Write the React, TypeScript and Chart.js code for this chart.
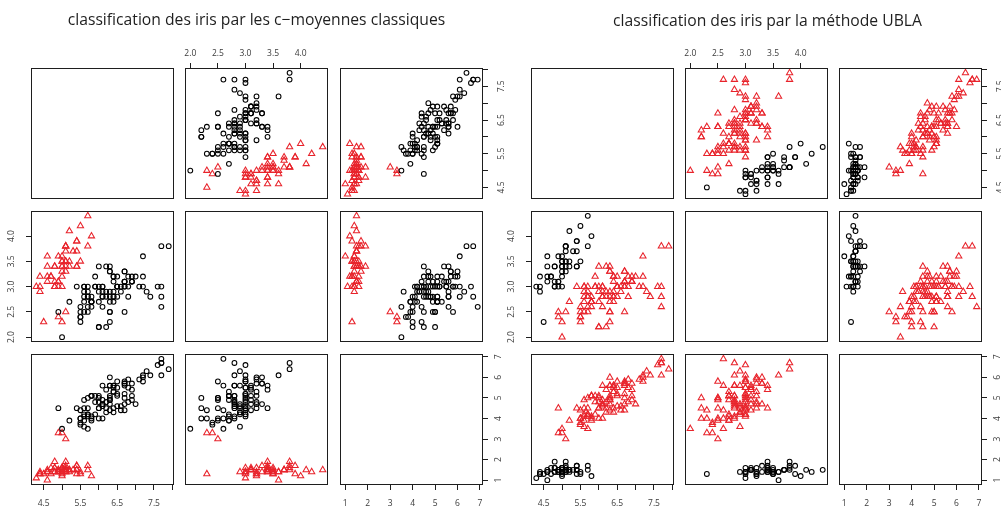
import React, { useEffect, useRef } from 'react';
import { Chart, registerables } from 'chart.js';

Chart.register(...registerables);

// ---- Data (iris: sepal length, sepal width, petal length) ----
const SEPAL_LENGTH = [
  5.1, 4.9, 4.7, 4.6, 5.0, 5.4, 4.6, 5.0, 4.4, 4.9, 5.4, 4.8, 4.8, 4.3, 5.8, 5.7, 5.4, 5.1, 5.7, 5.1,
  5.4, 5.1, 4.6, 5.1, 4.8, 5.0, 5.0, 5.2, 5.2, 4.7, 4.8, 5.4, 5.2, 5.5, 4.9, 5.0, 5.5, 4.9, 4.4, 5.1,
  5.0, 4.5, 4.4, 5.0, 5.1, 4.8, 5.1, 4.6, 5.3, 5.0,
  7.0, 6.4, 6.9, 5.5, 6.5, 5.7, 6.3, 4.9, 6.6, 5.2, 5.0, 5.9, 6.0, 6.1, 5.6, 6.7, 5.6, 5.8, 6.2, 5.6,
  5.9, 6.1, 6.3, 6.1, 6.4, 6.6, 6.8, 6.7, 6.0, 5.7, 5.5, 5.5, 5.8, 6.0, 5.4, 6.0, 6.7, 6.3, 5.6, 5.5,
  5.5, 6.1, 5.8, 5.0, 5.6, 5.7, 5.7, 6.2, 5.1, 5.7,
  6.3, 5.8, 7.1, 6.3, 6.5, 7.6, 4.9, 7.3, 6.7, 7.2, 6.5, 6.4, 6.8, 5.7, 5.8, 6.4, 6.5, 7.7, 7.7, 6.0,
  6.9, 5.6, 7.7, 6.3, 6.7, 7.2, 6.2, 6.1, 6.4, 7.2, 7.4, 7.9, 6.4, 6.3, 6.1, 7.7, 6.3, 6.4, 6.0, 6.9,
  6.7, 6.9, 5.8, 6.8, 6.7, 6.7, 6.3, 6.5, 6.2, 5.9,
];
const SEPAL_WIDTH = [
  3.5, 3.0, 3.2, 3.1, 3.6, 3.9, 3.4, 3.4, 2.9, 3.1, 3.7, 3.4, 3.0, 3.0, 4.0, 4.4, 3.9, 3.5, 3.8, 3.8,
  3.4, 3.7, 3.6, 3.3, 3.4, 3.0, 3.4, 3.5, 3.4, 3.2, 3.1, 3.4, 4.1, 4.2, 3.1, 3.2, 3.5, 3.6, 3.0, 3.4,
  3.5, 2.3, 3.2, 3.5, 3.8, 3.0, 3.8, 3.2, 3.7, 3.3,
  3.2, 3.2, 3.1, 2.3, 2.8, 2.8, 3.3, 2.4, 2.9, 2.7, 2.0, 3.0, 2.2, 2.9, 2.9, 3.1, 3.0, 2.7, 2.2, 2.5,
  3.2, 2.8, 2.5, 2.8, 2.9, 3.0, 2.8, 3.0, 2.9, 2.6, 2.4, 2.4, 2.7, 2.7, 3.0, 3.4, 3.1, 2.3, 3.0, 2.5,
  2.6, 3.0, 2.6, 2.3, 2.7, 3.0, 2.9, 2.9, 2.5, 2.8,
  3.3, 2.7, 3.0, 2.9, 3.0, 3.0, 2.5, 2.9, 2.5, 3.6, 3.2, 2.7, 3.0, 2.5, 2.8, 3.2, 3.0, 3.8, 2.6, 2.2,
  3.2, 2.8, 2.8, 2.7, 3.3, 3.2, 2.8, 3.0, 2.8, 3.0, 2.8, 3.8, 2.8, 2.8, 2.6, 3.0, 3.4, 3.1, 3.0, 3.1,
  3.1, 3.1, 2.7, 3.2, 3.3, 3.0, 2.5, 3.0, 3.4, 3.0,
];
const PETAL_LENGTH = [
  1.4, 1.4, 1.3, 1.5, 1.4, 1.7, 1.4, 1.5, 1.4, 1.5, 1.5, 1.6, 1.4, 1.1, 1.2, 1.5, 1.3, 1.4, 1.7, 1.5,
  1.7, 1.5, 1.0, 1.7, 1.9, 1.6, 1.6, 1.5, 1.4, 1.6, 1.6, 1.5, 1.5, 1.4, 1.5, 1.2, 1.3, 1.4, 1.3, 1.5,
  1.3, 1.3, 1.3, 1.6, 1.9, 1.4, 1.6, 1.4, 1.5, 1.4,
  4.7, 4.5, 4.9, 4.0, 4.6, 4.5, 4.7, 3.3, 4.6, 3.9, 3.5, 4.2, 4.0, 4.7, 3.6, 4.4, 4.5, 4.1, 4.5, 3.9,
  4.8, 4.0, 4.9, 4.7, 4.3, 4.4, 4.8, 5.0, 4.5, 3.5, 3.8, 3.7, 3.9, 5.1, 4.5, 4.5, 4.7, 4.4, 4.1, 4.0,
  4.4, 4.6, 4.0, 3.3, 4.2, 4.2, 4.2, 4.3, 3.0, 4.1,
  6.0, 5.1, 5.9, 5.6, 5.8, 6.6, 4.5, 6.3, 5.8, 6.1, 5.1, 5.3, 5.5, 5.0, 5.1, 5.3, 5.5, 6.7, 6.9, 5.0,
  5.7, 4.9, 6.7, 4.9, 5.7, 6.0, 4.8, 4.9, 5.6, 5.8, 6.1, 6.4, 5.6, 5.1, 5.6, 6.1, 5.6, 5.5, 4.8, 5.4,
  5.6, 5.1, 5.1, 5.9, 5.7, 5.2, 5.0, 5.2, 5.4, 5.1,
];

// cluster membership: 1 = black circle, 2 = red triangle
const CMEANS_GROUP = [
  2, 2, 2, 2, 2, 2, 2, 2, 2, 2, 2, 2, 2, 2, 2, 2, 2, 2, 2, 2,
  2, 2, 2, 2, 2, 2, 2, 2, 2, 2, 2, 2, 2, 2, 2, 2, 2, 2, 2, 2,
  2, 2, 2, 2, 2, 2, 2, 2, 2, 2,
  1, 1, 1, 1, 1, 1, 1, 2, 1, 1, 1, 1, 1, 1, 1, 1, 1, 1, 1, 1,
  1, 1, 1, 1, 1, 1, 1, 1, 1, 1, 1, 1, 1, 1, 1, 1, 1, 1, 1, 1,
  1, 1, 1, 2, 1, 1, 1, 1, 2, 1,
  1, 1, 1, 1, 1, 1, 1, 1, 1, 1, 1, 1, 1, 1, 1, 1, 1, 1, 1, 1,
  1, 1, 1, 1, 1, 1, 1, 1, 1, 1, 1, 1, 1, 1, 1, 1, 1, 1, 1, 1,
  1, 1, 1, 1, 1, 1, 1, 1, 1, 1,
];
const UBLA_GROUP = [
  1, 1, 1, 1, 1, 1, 1, 1, 1, 1, 1, 1, 1, 1, 1, 1, 1, 1, 1, 1,
  1, 1, 1, 1, 1, 1, 1, 1, 1, 1, 1, 1, 1, 1, 1, 1, 1, 1, 1, 1,
  1, 1, 1, 1, 1, 1, 1, 1, 1, 1,
  2, 2, 2, 2, 2, 2, 2, 2, 2, 2, 2, 2, 2, 2, 2, 2, 2, 2, 2, 2,
  2, 2, 2, 2, 2, 2, 2, 2, 2, 2, 2, 2, 2, 2, 2, 2, 2, 2, 2, 2,
  2, 2, 2, 2, 2, 2, 2, 2, 2, 2,
  2, 2, 2, 2, 2, 2, 2, 2, 2, 2, 2, 2, 2, 2, 2, 2, 2, 2, 2, 2,
  2, 2, 2, 2, 2, 2, 2, 2, 2, 2, 2, 2, 2, 2, 2, 2, 2, 2, 2, 2,
  2, 2, 2, 2, 2, 2, 2, 2, 2, 2,
];

const SL_TICKS = [4.5, 5.0, 5.5, 6.0, 6.5, 7.0, 7.5, 8.0];
const SL_TICK_LABELS = ['4.5', '', '5.5', '', '6.5', '', '7.5', ''];
const SW_TICKS = [2.0, 2.5, 3.0, 3.5, 4.0];
const SW_TICK_LABELS = ['2.0', '2.5', '3.0', '3.5', '4.0'];
const PL_TICKS = [1, 2, 3, 4, 5, 6, 7];
const PL_TICK_LABELS = ['1', '2', '3', '4', '5', '6', '7'];

const TITLE_LEFT = 'classification des iris par les c\u2212moyennes classiques';
const TITLE_RIGHT = 'classification des iris par la méthode UBLA';

// ---- Styling / layout ----
const FONT = "'Open Sans', 'DejaVu Sans', sans-serif";
const RED = '#e8232b';
const INK = '#1e1e1e';
const TICK_TEXT = '#3a3a3a';
const M = 40;
const PW = 143;
const PH = 131;
const ROWS = [68, 211, 354];

const VARS = [
  { values: SEPAL_LENGTH, ticks: SL_TICKS, labels: SL_TICK_LABELS },
  { values: SEPAL_WIDTH, ticks: SW_TICKS, labels: SW_TICK_LABELS },
  { values: PETAL_LENGTH, ticks: PL_TICKS, labels: PL_TICK_LABELS },
];

function rangeOf(values: number[]) {
  const lo = Math.min(...values);
  const hi = Math.max(...values);
  const d = (hi - lo) * 0.04;
  return [lo - d, hi + d];
}

const framePlugin = {
  id: 'panelFrame',
  afterDatasetsDraw(chart: any) {
    const { left, top, right, bottom } = chart.chartArea;
    const ctx = chart.ctx;
    ctx.save();
    ctx.strokeStyle = INK;
    ctx.lineWidth = 1;
    ctx.strokeRect(left + 0.5, top + 0.5, right - left - 1, bottom - top - 1);
    ctx.restore();
  },
};

function Panel({ px, py, i, j, group }: { px: number; py: number; i: number; j: number; group: number[] }) {
  const ref = useRef<HTMLCanvasElement>(null);
  useEffect(() => {
    if (!ref.current) return;
    const diag = i === j;
    const xv = VARS[j];
    const yv = VARS[i];
    const xTop = i === 0 && j % 2 === 1;
    const xBottom = i === 2 && j % 2 === 0;
    const yLeft = j === 0 && i % 2 === 1;
    const yRight = j === 2 && i % 2 === 0;
    const xShown = xTop || xBottom;
    const yShown = yLeft || yRight;
    const circles: { x: number; y: number }[] = [];
    const triangles: { x: number; y: number }[] = [];
    if (!diag) {
      for (let k = 0; k < xv.values.length; k++) {
        const p = { x: xv.values[k], y: yv.values[k] };
        if (group[k] === 1) circles.push(p);
        else triangles.push(p);
      }
    }
    const [xmin, xmax] = rangeOf(xv.values);
    const [ymin, ymax] = rangeOf(yv.values);
    const tickFont = { family: FONT, size: 8.5 };
    const chart = new Chart(ref.current, {
      type: 'scatter',
      data: {
        datasets: [
          {
            data: circles,
            pointStyle: 'circle',
            pointRadius: 2.4,
            borderColor: '#000',
            backgroundColor: 'rgba(0,0,0,0)',
            borderWidth: 1.05,
          },
          {
            data: triangles,
            pointStyle: 'triangle',
            pointRadius: 3.6,
            borderColor: RED,
            backgroundColor: 'rgba(0,0,0,0)',
            borderWidth: 1.05,
          },
        ],
      },
      options: {
        animation: false,
        responsive: false,
        events: [],
        layout: {
          padding: {
            top: xTop ? 0 : M,
            bottom: xBottom ? 0 : M,
            left: yLeft ? 0 : M,
            right: yRight ? 0 : M,
          },
        },
        plugins: { legend: { display: false }, tooltip: { enabled: false }, title: { display: false } },
        scales: {
          x: {
            type: 'linear',
            min: xmin,
            max: xmax,
            display: xShown,
            position: xTop ? 'top' : 'bottom',
            afterBuildTicks: (s: any) => {
              s.ticks = xv.ticks.map((v) => ({ value: v }));
            },
            afterFit: (s: any) => {
              s.height = xShown ? M : 0;
            },
            ticks: {
              autoSkip: false,
              minRotation: 0,
              maxRotation: 0,
              padding: xTop ? 4 : 8,
              font: tickFont,
              color: TICK_TEXT,
              callback: (_v: any, idx: number) => xv.labels[idx],
            },
            grid: { drawOnChartArea: false, drawTicks: true, tickLength: 5, color: INK, lineWidth: 1 },
            border: { display: false },
          },
          y: {
            type: 'linear',
            min: ymin,
            max: ymax,
            display: yShown,
            position: yRight ? 'right' : 'left',
            afterBuildTicks: (s: any) => {
              s.ticks = yv.ticks.map((v) => ({ value: v }));
            },
            afterFit: (s: any) => {
              s.width = yShown ? M : 0;
            },
            ticks: {
              autoSkip: false,
              minRotation: 90,
              maxRotation: 90,
              crossAlign: 'center',
              padding: 8,
              font: tickFont,
              color: TICK_TEXT,
              callback: (_v: any, idx: number) => yv.labels[idx],
            },
            grid: { drawOnChartArea: false, drawTicks: true, tickLength: 5, color: INK, lineWidth: 1 },
            border: { display: false },
          },
        },
      } as any,
      plugins: [framePlugin],
    });
    return () => chart.destroy();
  }, [i, j, group]);
  return (
    <canvas
      ref={ref}
      width={PW + 2 * M}
      height={PH + 2 * M}
      style={{ position: 'absolute', left: px - M, top: py - M, width: PW + 2 * M, height: PH + 2 * M }}
    />
  );
}

function Matrix({ cols, group }: { cols: number[]; group: number[] }) {
  const panels = [];
  for (let i = 0; i < 3; i++) {
    for (let j = 0; j < 3; j++) {
      panels.push(<Panel key={`${i}-${j}`} px={cols[j]} py={ROWS[i]} i={i} j={j} group={group} />);
    }
  }
  return <>{panels}</>;
}

const titleStyle = (cx: number, top: number): React.CSSProperties => ({
  position: 'absolute',
  left: cx,
  top,
  transform: 'translateX(-50%)',
  whiteSpace: 'nowrap',
  fontFamily: FONT,
  fontSize: 15.7,
  lineHeight: '18px',
  color: INK,
});

export default function App() {
  return (
    <div
      style={{
        position: 'absolute',
        left: 0,
        top: 0,
        width: 1001,
        height: 509,
        overflow: 'hidden',
        background: '#fff',
      }}
    >
      <Matrix cols={[31, 185, 340]} group={CMEANS_GROUP} />
      <Matrix cols={[531, 685, 839]} group={UBLA_GROUP} />
      <div style={titleStyle(256.5, 10)}>{TITLE_LEFT}</div>
      <div style={titleStyle(767.5, 11)}>{TITLE_RIGHT}</div>
    </div>
  );
}
